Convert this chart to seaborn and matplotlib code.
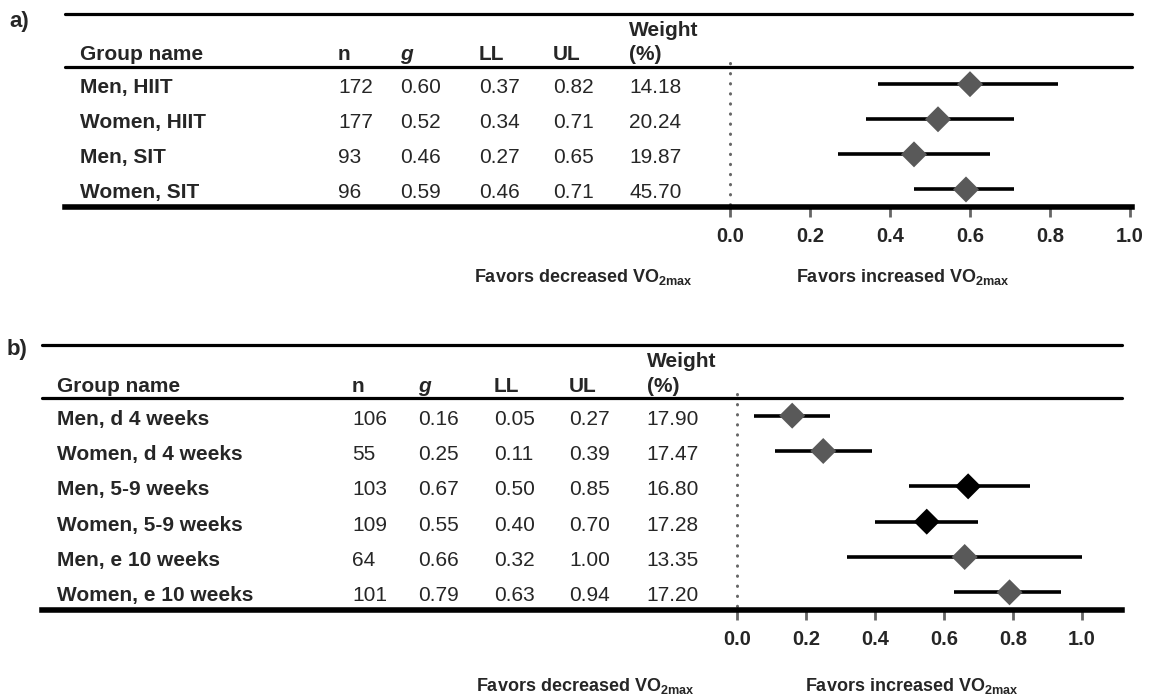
import numpy as np
import pandas as pd
import matplotlib

matplotlib.use("Agg")
import matplotlib.pyplot as plt
import seaborn as sns

# a) training type
groups_a = ["Men, HIIT", "Women, HIIT", "Men, SIT", "Women, SIT"]
n_a = [172, 177, 93, 96]
g_a = [0.60, 0.52, 0.46, 0.59]
ll_a = [0.37, 0.34, 0.27, 0.46]
ul_a = [0.82, 0.71, 0.65, 0.71]
w_a = [14.18, 20.24, 19.87, 45.70]
shade_a = ["grey", "grey", "grey", "grey"]

# b) training duration
groups_b = ["Men, d 4 weeks", "Women, d 4 weeks", "Men, 5-9 weeks",
            "Women, 5-9 weeks", "Men, e 10 weeks", "Women, e 10 weeks"]
n_b = [106, 55, 103, 109, 64, 101]
g_b = [0.16, 0.25, 0.67, 0.55, 0.66, 0.79]
ll_b = [0.05, 0.11, 0.50, 0.40, 0.32, 0.63]
ul_b = [0.27, 0.39, 0.85, 0.70, 1.00, 0.94]
w_b = [17.90, 17.47, 16.80, 17.28, 13.35, 17.20]
shade_b = ["grey", "grey", "black", "black", "grey", "grey"]

ticks = [0.0, 0.2, 0.4, 0.6, 0.8, 1.0]

sns.set_theme(style="white")
plt.rcParams["font.family"] = ["Liberation Sans", "DejaVu Sans"]
plt.rcParams["mathtext.fontset"] = "custom"
plt.rcParams["mathtext.rm"] = "Liberation Sans"
plt.rcParams["mathtext.bf"] = "Liberation Sans:bold"

palette = {"grey": "#595959", "black": "#000000"}
W, H = 1150, 694


def panel(ax, groups, n, g, ll, ul, w, shade, xlim, colx, nrows):
    df = pd.DataFrame({"group": groups, "n": n, "g": g, "LL": ll, "UL": ul,
                       "w": w, "shade": shade, "row": np.arange(len(groups))})
    ax.hlines(df["row"], df["LL"], df["UL"], color="black", lw=2.6, zorder=2)
    sns.scatterplot(data=df, x="g", y="row", hue="shade", palette=palette,
                    marker="D", s=175, linewidth=0, legend=False, ax=ax, zorder=3)
    ax.plot([0, 0], [-0.6, nrows - 0.5], color="#666666", lw=2.2,
            linestyle=(0, (0.1, 3.2)), dash_capstyle="round", zorder=1)

    ax.set_xlim(*xlim)
    ax.set_ylim(nrows - 0.5, -2.0)
    ax.set_xticks(ticks)
    ax.set_xticklabels([f"{t:.1f}" for t in ticks], fontsize=14.5, fontweight="bold")
    ax.set_yticks([])
    ax.set_xlabel("")
    ax.set_ylabel("")
    for side in ["top", "left", "right"]:
        ax.spines[side].set_visible(False)
    ax.spines["bottom"].set_linewidth(4)
    ax.spines["bottom"].set_color("black")
    ax.tick_params(axis="x", bottom=True, length=7.5, width=2, color="#666666", pad=7)
    ax.axhline(-2.0, color="black", lw=2.3, clip_on=False)
    ax.axhline(-0.5, color="black", lw=2.3, clip_on=False)

    tr = ax.get_yaxis_transform()
    hdr = dict(transform=tr, fontsize=15, fontweight="bold", va="baseline")
    ax.text(colx[0], -0.68, "Group name", **hdr)
    ax.text(colx[1], -0.68, "n", **hdr)
    ax.text(colx[2], -0.68, "g", style="italic", **hdr)
    ax.text(colx[3], -0.68, "LL", **hdr)
    ax.text(colx[4], -0.68, "UL", **hdr)
    ax.text(colx[5], -0.68, "(%)", **hdr)
    ax.text(colx[5], -1.38, "Weight", **hdr)

    cell = dict(transform=tr, fontsize=15, va="center")
    for r in df.itertuples():
        y = r.row + 0.1
        ax.text(colx[0], y, r.group, fontweight="bold", **cell)
        ax.text(colx[1], y, f"{r.n}", **cell)
        ax.text(colx[2], y, f"{r.g:.2f}", **cell)
        ax.text(colx[3], y, f"{r.LL:.2f}", **cell)
        ax.text(colx[4], y, f"{r.UL:.2f}", **cell)
        ax.text(colx[5], y, f"{r.w:.2f}", **cell)


fig = plt.figure(figsize=(W / 100, H / 100), dpi=100)
ax_a = fig.add_axes([65 / W, 1 - 207 / H, 1067 / W, 193 / H])
ax_b = fig.add_axes([42 / W, 1 - 610 / H, 1080 / W, 265 / H])

panel(ax_a, groups_a, n_a, g_a, ll_a, ul_a, w_a, shade_a, (-1.6625, 1.005),
      [0.0141, 0.2559, 0.314, 0.388, 0.4574, 0.5286], len(groups_a))
panel(ax_b, groups_b, n_b, g_b, ll_b, ul_b, w_b, shade_b, (-2.0145, 1.116),
      [0.0139, 0.287, 0.348, 0.4185, 0.488, 0.560], len(groups_b))

lab = dict(fontsize=13, fontweight="bold", ha="center", va="center")
fig.text(583 / W, 1 - 277 / H, r"Favors decreased VO$_{\mathbf{2max}}$", **lab)
fig.text(903 / W, 1 - 277 / H, r"Favors increased VO$_{\mathbf{2max}}$", **lab)
fig.text(585 / W, 1 - 686 / H, r"Favors decreased VO$_{\mathbf{2max}}$", **lab)
fig.text(912 / W, 1 - 686 / H, r"Favors increased VO$_{\mathbf{2max}}$", **lab)

fig.text(9 / W, 1 - 21 / H, "a)", fontsize=16, fontweight="bold", va="center")
fig.text(7 / W, 1 - 350 / H, "b)", fontsize=16, fontweight="bold", va="center")

fig.savefig("out.png", dpi=100)
